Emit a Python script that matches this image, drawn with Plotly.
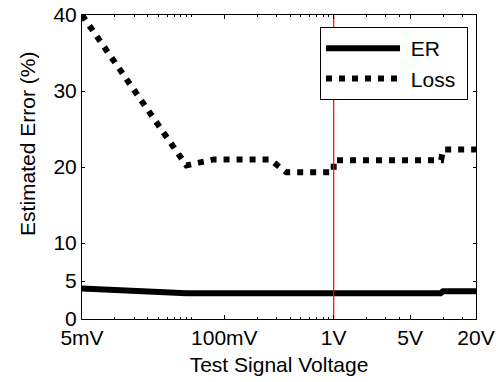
import numpy as np
import plotly.graph_objects as go

# ---- data ----
x_ticks = [0.005, 0.1, 1, 5, 20]
x_ticktext = ["5mV", "100mV", "1V", "5V", "20V"]
test_voltages = [0.01, 0.015, 0.02, 0.025, 0.03, 0.035, 0.04, 0.045, 0.05,
                 0.2, 0.3, 0.4, 0.5, 0.6, 0.7, 0.8, 0.9,
                 2, 3, 4, 10, 15]
y_ticks = [0, 5, 10, 20, 30, 40]

er_x = [0.005, 0.045, 9.5, 10, 20]
er_y = [4.0, 3.38, 3.38, 3.65, 3.65]

loss_x = [0.005, 0.045, 0.08, 0.26, 0.37, 1.0, 1.0, 9.6, 10, 20]
loss_y = [40.0, 20.2, 21.0, 21.0, 19.3, 19.3, 20.9, 20.9, 22.3, 22.3]

marker_x = [1, 1]
marker_y = [0, 40]

FONT = "Liberation Sans, Arial, sans-serif"

fig = go.Figure()
fig.add_trace(go.Scatter(x=er_x, y=er_y, mode="lines", name="\u00a0ER",
                         line=dict(color="black", width=6)))
fig.add_trace(go.Scatter(x=loss_x, y=loss_y, mode="lines", name="\u00a0Loss\u00a0",
                         line=dict(color="black", width=6, dash="6px,7px")))
fig.add_trace(go.Scatter(x=marker_x, y=marker_y, mode="lines",
                         line=dict(color="#ff0000", width=1.2), showlegend=False,
                         hoverinfo="skip"))

fig.update_layout(
    width=496, height=382,
    margin=dict(l=82, r=20, t=15, b=63, autoexpand=False),
    plot_bgcolor="white", paper_bgcolor="white",
    font=dict(family=FONT, size=21, color="black"),
    showlegend=True,
    legend=dict(x=0.9797, xanchor="right", y=0.9605, yanchor="top",
                bgcolor="white", bordercolor="black", borderwidth=1,
                font=dict(size=21), itemwidth=74),
    xaxis=dict(type="log", range=[np.log10(0.005), np.log10(20)],
               tickmode="array", tickvals=x_ticks, ticktext=x_ticktext,
               ticks="inside", ticklen=4, tickcolor="black", automargin=False,
               showline=True, linecolor="black", linewidth=1, mirror="ticks",
               showgrid=False, zeroline=False,
               minor=dict(tickmode="array", tickvals=test_voltages,
                          ticks="inside", ticklen=2, tickcolor="black", showgrid=False),
               title=dict(text="Test Signal Voltage", font=dict(size=21), standoff=9)),
    yaxis=dict(range=[0, 40], tickmode="array", tickvals=y_ticks,
               ticks="inside", ticklen=3, tickcolor="black", automargin=False,
               showline=True, linecolor="black", linewidth=1, mirror="ticks",
               showgrid=False, zeroline=False),
    annotations=[dict(text="Estimated Error (%)", xref="paper", yref="paper",
                      x=-0.137, y=0.576, textangle=-90, showarrow=False,
                      font=dict(size=21), xanchor="center", yanchor="middle")],
)

fig.write_html("out.html")
